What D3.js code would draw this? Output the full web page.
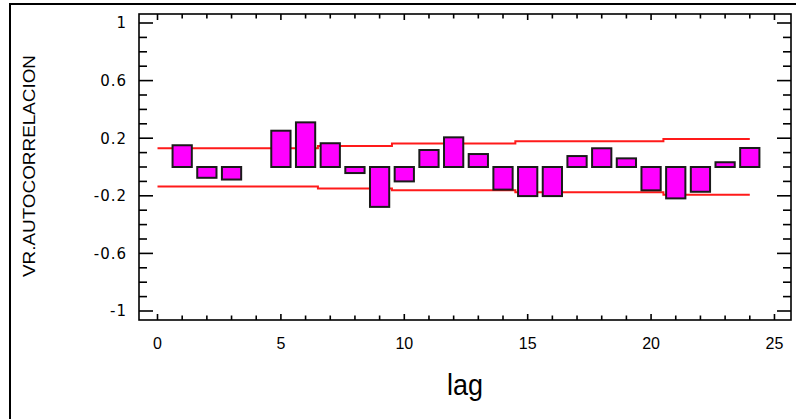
<!DOCTYPE html>
<html>
<head>
<meta charset="utf-8">
<script src="https://cdn.jsdelivr.net/npm/d3@7"></script>
<style>
	body { margin: 0; background: #fff; }
	svg { display: block; }
</style>
</head>
<body>
<svg id="chart" width="796" height="419"></svg>
<script>
// estimated autocorrelations, lags 1..24
var lags = [1, 2, 3, 4, 5, 6, 7, 8, 9, 10, 11, 12, 13, 14, 15, 16, 17, 18, 19, 20, 21, 22, 23, 24];
var acf = [0.151, -0.075, -0.087, 0.0, 0.252, 0.31, 0.165, -0.042, -0.277, -0.1, 0.118, 0.206,
	0.09, -0.157, -0.202, -0.202, 0.076, 0.13, 0.06, -0.162, -0.218, -0.172, 0.033, 0.132];

// probability limits, lags 0..24
var limitLags = [0, 1, 2, 3, 4, 5, 6, 7, 8, 9, 10, 11, 12, 13, 14, 15, 16, 17, 18, 19, 20, 21, 22, 23, 24];
var upperLimit = [0.131, 0.131, 0.131, 0.131, 0.131, 0.131, 0.131, 0.146, 0.146, 0.146,
	0.164, 0.164, 0.164, 0.164, 0.164, 0.178, 0.178, 0.178, 0.178, 0.178, 0.178,
	0.194, 0.194, 0.194, 0.194];
var lowerLimit = [-0.135, -0.135, -0.135, -0.135, -0.135, -0.135, -0.135, -0.15, -0.15, -0.15,
	-0.161, -0.161, -0.161, -0.161, -0.161, -0.176, -0.176, -0.176, -0.176, -0.176, -0.176,
	-0.192, -0.192, -0.192, -0.192];

var yTickValues = [1, 0.6, 0.2, -0.2, -0.6, -1];
var xTickValues = [0, 5, 10, 15, 20, 25];

var svg = d3.select("#chart");

var plot = {left: 139, right: 791, top: 14, bottom: 320};

var x = d3.scaleLinear().domain([-0.75, 25.67]).range([plot.left, plot.right]);
var y = d3.scaleLinear().domain([-1.0625, 1.0625]).range([plot.bottom, plot.top]);

// outer frame, only its left and top edges fall inside the picture
svg.append("rect")
	.attr("x", 10)
	.attr("y", 4)
	.attr("width", 820)
	.attr("height", 440)
	.attr("fill", "none")
	.attr("stroke", "#000")
	.attr("stroke-width", 2);

// minor ticks every 0.1 on y, every lag on x
var yMinor = d3.range(-10, 11).map(function (d) { return d / 10; });
var xMinor = d3.range(0, 26);

var isMajorY = function (v) {
	return yTickValues.some(function (t) { return Math.abs(t - v) < 1e-6; });
};

var gTicks = svg.append("g").attr("stroke", "#000").attr("stroke-width", 1.6);

yMinor.forEach(function (v) {
	var len = isMajorY(v) ? 14 : 8;
	gTicks.append("line")
		.attr("x1", plot.left).attr("x2", plot.left + len)
		.attr("y1", y(v)).attr("y2", y(v));
	gTicks.append("line")
		.attr("x1", plot.right).attr("x2", plot.right - len)
		.attr("y1", y(v)).attr("y2", y(v));
});

xMinor.forEach(function (v) {
	var len = (v % 5 === 0) ? 6 : 4.5;
	gTicks.append("line")
		.attr("x1", x(v)).attr("x2", x(v))
		.attr("y1", plot.top).attr("y2", plot.top + len);
	gTicks.append("line")
		.attr("x1", x(v)).attr("x2", x(v))
		.attr("y1", plot.bottom).attr("y2", plot.bottom - len);
});

// tick labels (plain hyphen for negatives, as in the original)
svg.append("g")
	.selectAll("text")
	.data(yTickValues)
	.join("text")
	.attr("x", 127)
	.attr("y", function (d) { return y(d); })
	.attr("dy", "0.36em")
	.attr("text-anchor", "end")
	.attr("font-family", "DejaVu Sans, sans-serif")
	.attr("font-size", "15px")
	.attr("letter-spacing", "1px")
	.attr("fill", "#000")
	.text(function (d) { return String(d); });

svg.append("g")
	.selectAll("text")
	.data(xTickValues)
	.join("text")
	.attr("x", function (d) { return x(d); })
	.attr("y", 349)
	.attr("text-anchor", "middle")
	.attr("font-family", "Liberation Sans, Arial, sans-serif")
	.attr("font-size", "16px")
	.attr("fill", "#000")
	.text(function (d) { return d; });

// confidence limits
var limitLine = d3.line()
	.x(function (d) { return x(d[0]); })
	.y(function (d) { return y(d[1]); })
	.curve(d3.curveStep);

[upperLimit, lowerLimit].forEach(function (lim) {
	svg.append("path")
		.datum(d3.zip(limitLags, lim))
		.attr("d", limitLine)
		.attr("fill", "none")
		.attr("stroke", "#ff1a1a")
		.attr("stroke-width", 2);
});

// autocorrelation bars
var barWidth = x(0.78) - x(0);
svg.append("g")
	.selectAll("rect")
	.data(d3.zip(lags, acf).filter(function (d) { return Math.abs(d[1]) > 0.005; }))
	.join("rect")
	.attr("x", function (d) { return x(d[0]) - barWidth / 2; })
	.attr("y", function (d) { return y(Math.max(0, d[1])); })
	.attr("width", barWidth)
	.attr("height", function (d) { return Math.abs(y(d[1]) - y(0)); })
	.attr("fill", "#ff00ff")
	.attr("stroke", "#1a1a1a")
	.attr("stroke-width", 2);

// plot border
svg.append("rect")
	.attr("x", plot.left)
	.attr("y", plot.top)
	.attr("width", plot.right - plot.left)
	.attr("height", plot.bottom - plot.top)
	.attr("fill", "none")
	.attr("stroke", "#000")
	.attr("stroke-width", 1.6);

// axis titles
svg.append("text")
	.attr("transform", "translate(29,166) rotate(-90)")
	.attr("text-anchor", "middle")
	.attr("dominant-baseline", "central")
	.attr("font-family", "Liberation Sans, Arial, sans-serif")
	.attr("font-size", "16px")
	.attr("textLength", 222)
	.attr("lengthAdjust", "spacingAndGlyphs")
	.attr("fill", "#000")
	.text("VR.AUTOCORRELACION");

svg.append("text")
	.attr("x", 465)
	.attr("y", 395)
	.attr("text-anchor", "middle")
	.attr("font-family", "Liberation Sans, Arial, sans-serif")
	.attr("font-size", "29px")
	.attr("textLength", 36)
	.attr("lengthAdjust", "spacingAndGlyphs")
	.attr("fill", "#000")
	.text("lag");
</script>
</body>
</html>
